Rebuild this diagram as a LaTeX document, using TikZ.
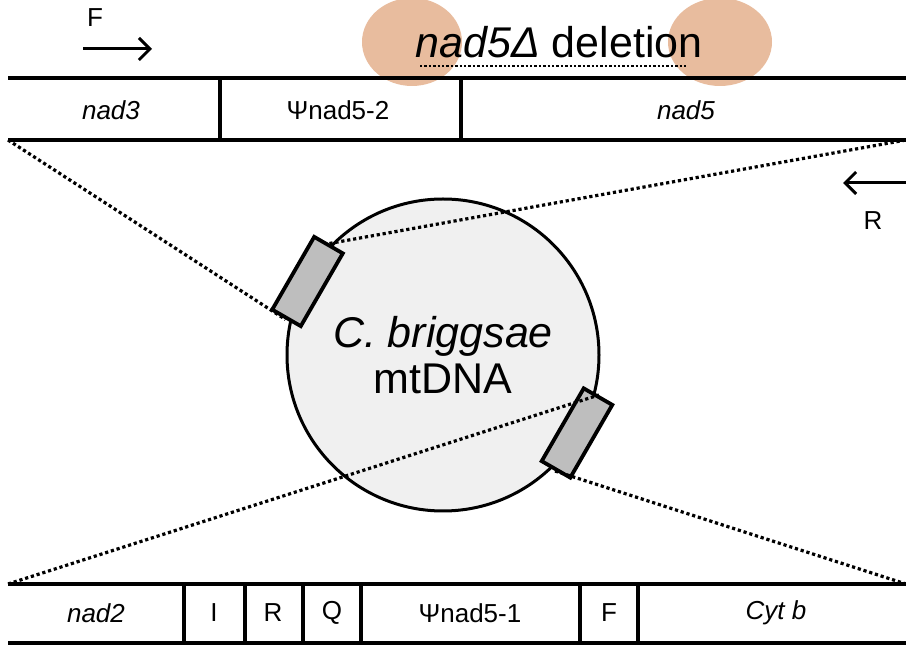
\documentclass[tikz,border=0pt]{standalone}
\usepackage{fontspec}
\setmainfont{Liberation Sans}
\usetikzlibrary{arrows.meta}

\definecolor{hilite}{RGB}{232,188,158}
\definecolor{boxgray}{RGB}{190,190,190}
\definecolor{circgray}{RGB}{240,240,240}

\tikzset{
  band/.style={line width=2pt},
  sep/.style={line width=1.6pt},
  gene/.style={font=\fontsize{13}{15}\selectfont},
  bigtext/.style={font=\fontsize{21.5}{23}\selectfont},
  dots/.style={line width=1.6pt, dash pattern=on 1.6pt off 1.4pt},
  delline/.style={line width=1.2pt, dash pattern=on 1.2pt off 1pt},
  marker/.style={draw, line width=1.9pt, fill=boxgray, minimum width=42pt,
    minimum height=16.5pt, inner sep=0pt},
  primer/.style={line width=1.5pt, -{Straight Barb[length=5.5pt,width=11pt]}}
}

\begin{document}
\begin{tikzpicture}[x=0.5pt,y=-0.5pt]
    \useasboundingbox (0,0) rectangle (906,646);

    % highlighted ends of the deletion
    \fill[hilite] (412,42) ellipse [x radius=50, y radius=44];
    \fill[hilite] (720,42) ellipse [x radius=52, y radius=44];

    \node[bigtext] (del) at (559,42) {\textit{nad5Δ} deletion};
    \coordinate (d1) at (420,66);
    \coordinate (d2) at (686,66);
    \draw[delline] (d1) -- (d2);

    % primers
    \coordinate (fa) at (83,49);
    \coordinate (fb) at (152,49);
    \draw[primer] (fa) -- (fb);
    \node[gene] (fp) at (95,18) {F};
    \coordinate (ra) at (906,183);
    \coordinate (rb) at (843,183);
    \draw[primer] (ra) -- (rb);
    \node[gene] (rp) at (873,221) {R};

    % upper gene band
    \coordinate (tl) at (8,140);
    \coordinate (tr) at (906,140);
    \draw[band] (8,78) -- (906,78);
    \draw[band] (tl) -- (tr);
    \foreach \x in {220,461}
        \draw[sep] (\x,78) -- (\x,140);
    \node[gene] (nadthree) at (111,110) {\textit{nad3}};
    \node[gene] (psitwo) at (338,110) {Ψnad5-2};
    \node[gene] (nadfive) at (686,110) {\textit{nad5}};

    % lower gene band
    \coordinate (bl) at (8,584);
    \coordinate (br) at (906,584);
    \draw[band] (bl) -- (br);
    \draw[band] (8,643) -- (906,643);
    \foreach \x in {184,245,303,361,580,638}
        \draw[sep] (\x,584) -- (\x,643);
    \node[gene] (nadtwo) at (96,613) {\textit{nad2}};
    \node[gene] (trnI) at (214,613) {I};
    \node[gene] (trnR) at (273,613) {R};
    \node[gene] (trnQ) at (332,613) {Q};
    \node[gene] (psione) at (470,613) {Ψnad5-1};
    \node[gene] (trnF) at (609,613) {F};
    \node[gene] (cytb) at (776,613) {\textit{Cyt b}};

    % the genome
    \node[circle, draw, line width=1.5pt, fill=circgray, minimum size=156pt,
      inner sep=0pt, align=center, bigtext] (mt) at (443,355)
      {\textit{C. briggsae}\\mtDNA};

    \node[marker, rotate=60] (m1) at (307.5,281.5) {};
    \node[marker, rotate=60] (m2) at (577,433) {};

    \draw[dots] (tl) -- (m1.west);
    \draw[dots] (m1.east) -- (tr);
    \draw[dots] (bl) -- (m2.east);
    \draw[dots] (m2.west) -- (br);
\end{tikzpicture}
\end{document}
